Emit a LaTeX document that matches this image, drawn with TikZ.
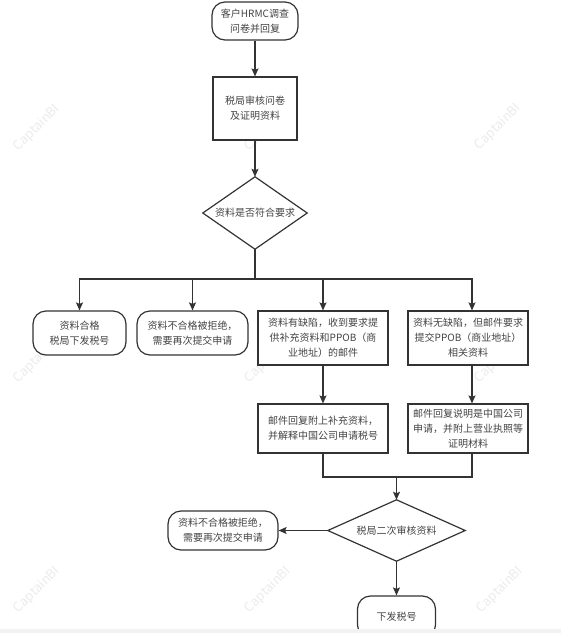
\documentclass[tikz,border=0pt]{standalone}
\usepackage{fontspec}
\setmainfont{Noto Sans CJK SC}
\usetikzlibrary{arrows.meta}
\definecolor{linegray}{HTML}{333333}
\definecolor{textgray}{HTML}{444444}

\begin{document}
\begin{tikzpicture}[x=1pt, y=-1pt,
  every node/.style={font=\fontsize{10}{15}\selectfont, text=textgray, align=center, inner sep=0pt},
  term/.style={draw=linegray, fill=white, line width=1.2pt, rounded corners=13pt},
  proc/.style={draw=linegray, fill=white, line width=1.2pt},
  ln/.style={draw=linegray, line width=1.2pt},
  arr/.style={ln, -{Stealth[length=8pt,width=7pt,inset=1.5pt]}},
  wm/.style={text=black!8, rotate=45, font=\fontsize{13}{13}\selectfont}]
\clip (0,0) rectangle (561,633);
% watermarks
\foreach \wx/\wy [count=\i] in {37/128, 268/128, 498/127, 37/360, 268/360, 498/360, 37/590, 268/590, 500/590}
  \node[wm] (wm\i) at (\wx,\wy) {CaptainBI};
% first check
\node[term, minimum width=86pt, minimum height=38pt] (start) at (255,21) {客户HRMC调查\\问卷并回复};
\node[proc, minimum width=84pt, minimum height=63pt] (review) at (255,108.5) {税局审核问卷\\及证明资料};
\node[minimum width=104pt, minimum height=72pt] (check) at (255,213) {资料是否符合要求};
\draw[ln] (check.north) -- (check.east) -- (check.south) -- (check.west) -- cycle;
% outcomes
\node[term, minimum width=93pt, minimum height=44pt] (pass) at (79.5,333) {资料合格\\税局下发税号};
\node[term, minimum width=111pt, minimum height=44pt] (reject) at (192.5,333) {资料不合格被拒绝，\\需要再次提交申请};
\node[proc, minimum width=130pt, minimum height=54pt] (lack) at (323,338) {资料有缺陷，收到要求提\\供补充资料和PPOB（商\\业地址）的邮件};
\node[proc, minimum width=120pt, minimum height=54pt] (nolack) at (468,338) {资料无缺陷，但邮件要求\\提交PPOB（商业地址）\\相关资料};
\node[proc, minimum width=130pt, minimum height=49pt] (reply1) at (323,428.5) {邮件回复附上补充资料，\\并解释中国公司申请税号};
\node[proc, minimum width=120pt, minimum height=49pt] (reply2) at (468,428.5) {邮件回复说明是中国公司\\申请，并附上营业执照等\\证明材料};
% second check
\node[minimum width=137pt, minimum height=61pt] (recheck) at (396.5,530.5) {税局二次审核资料};
\draw[ln] (recheck.north) -- (recheck.east) -- (recheck.south) -- (recheck.west) -- cycle;
\node[term, minimum width=110pt, minimum height=39pt] (reject2) at (223,530.5) {资料不合格被拒绝，\\需要再次提交申请};
\node[term, minimum width=78pt, minimum height=42pt] (issue) at (396.5,617) {下发税号};
% connectors
\coordinate (split) at (255,279);
\coordinate (merge) at (396.5,477);
\draw[arr] (start) -- (review);
\draw[arr] (review) -- (check.north);
\draw[ln] (check.south) -- (split);
\draw[arr] (split) -| (pass.north);
\draw[arr] (split) -| (reject.north);
\draw[arr] (split) -| (lack.north);
\draw[arr] (split) -| ([xshift=4pt]nolack.north);
\draw[arr] (lack) -- (reply1);
\draw[arr] ([xshift=4pt]nolack.south) -- ([xshift=4pt]reply2.north);
\draw[ln] (reply1.south) |- (merge);
\draw[ln] ([xshift=4pt]reply2.south) |- (merge);
\draw[arr] (merge) -- (recheck.north);
\draw[arr] (recheck.west) -- (reject2.east);
\draw[arr] (recheck.south) -- (issue.north);
\fill[black!5] (0,629) rectangle (561,633);
\end{tikzpicture}
\end{document}
